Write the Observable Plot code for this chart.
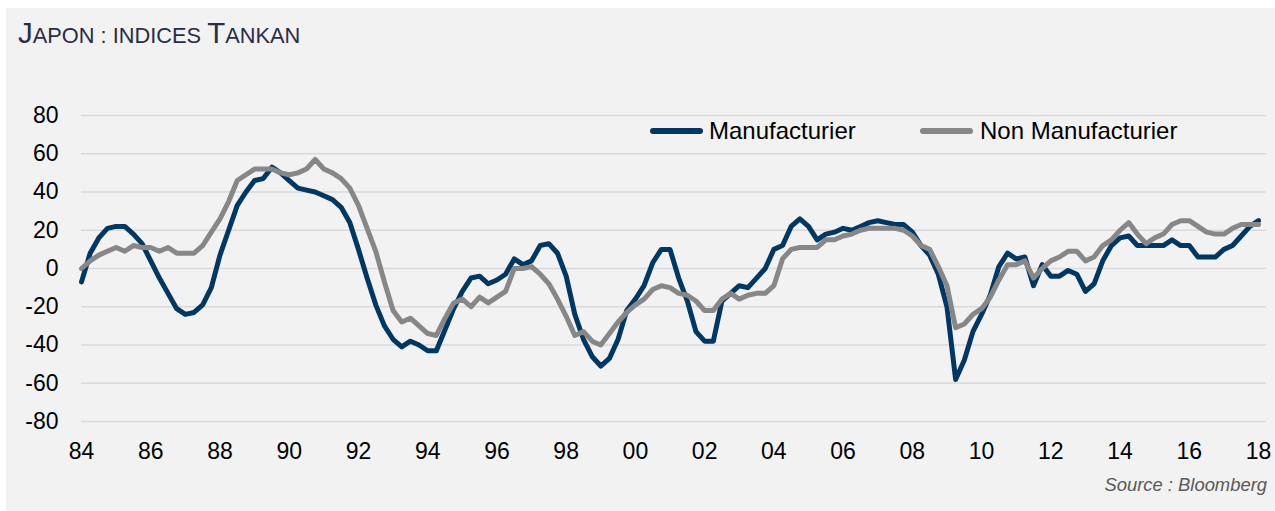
<!DOCTYPE html>
<html>
<head>
<meta charset="utf-8">
<script src="https://cdn.jsdelivr.net/npm/d3@7"></script>
<script src="https://cdn.jsdelivr.net/npm/@observablehq/plot@0.6"></script>
<style>
  html, body { margin: 0; padding: 0; background: #ffffff; }
  body { width: 1275px; height: 511px; overflow: hidden; position: relative; font-family: "Liberation Sans", Arial, sans-serif; }
  #panel { position: absolute; left: 6px; top: 8px; width: 1269px; height: 503px; background: #f2f2f2; }
  #chart { position: absolute; left: 0; top: 0; }
  #title { position: absolute; left: 12px; top: 10px; font-size: 29.5px; line-height: 1; color: #2a2d47; white-space: nowrap; }
  #title .sc { font-size: 21.8px; }
  .legend-line { position: absolute; height: 5.5px; border-radius: 3px; }
  .legend-text { position: absolute; font-size: 24px; line-height: 1; color: #000; white-space: nowrap; }
  #source { position: absolute; right: 8px; top: 467.5px; font-size: 18.4px; line-height: 1; font-style: italic; color: #595959; white-space: nowrap; }
</style>
</head>
<body>
<div id="panel">
  <div id="chart"></div>
  <div id="title">J<span class="sc">APON : INDICES </span>T<span class="sc">ANKAN</span></div>
  <div id="legend"></div>
  <div id="source">Source : Bloomberg</div>
</div>
<script>
// Quarterly Tankan DI, first quarter plotted at 1984
const startYear = 1984;
const seriesNames = ["Manufacturier", "Non Manufacturier"];
const seriesColors = ["#003865", "#878787"];

const manufacturier = [
  -7, 8, 16, 21, 22, 22, 18, 13, 4, -5, -13, -21, -24, -23, -19, -10,
  7, 20, 33, 40, 46, 47, 53, 50, 46, 42, 41, 40, 38, 36, 32, 24,
  10, -5, -19, -30, -37, -41, -38, -40, -43, -43, -32, -21, -12, -5, -4, -8,
  -6, -3, 5, 2, 4, 12, 13, 8, -4, -24, -37, -46, -51, -47, -37, -22,
  -16, -9, 3, 10, 10, -5, -17, -33, -38, -38, -17, -13, -9, -10, -5, 0,
  10, 12, 22, 26, 22, 15, 18, 19, 21, 20, 22, 24, 25, 24, 23, 23,
  19, 12, 7, -3, -20, -58, -48, -33, -24, -14, 1, 8, 5, 6, -9, 2,
  -4, -4, -1, -3, -12, -8, 4, 12, 16, 17, 12, 12, 12, 12, 15, 12,
  12, 6, 6, 6, 10, 12, 17, 22, 25
];

const nonManufacturier = [
  0, 4, 7, 9, 11, 9, 12, 11, 11, 9, 11, 8, 8, 8, 12, 19,
  26, 35, 46, 49, 52, 52, 52, 50, 49, 50, 52, 57, 52, 50, 47, 42,
  33, 21, 9, -7, -22, -28, -26, -30, -34, -35, -26, -18, -16, -20, -15, -18,
  -15, -12, 0, 0, 1, -3, -8, -16, -25, -35, -33, -38, -40, -34, -28, -23,
  -19, -16, -11, -9, -10, -13, -14, -17, -22, -22, -16, -13, -16, -14, -13, -13,
  -9, 5, 10, 11, 11, 11, 15, 15, 17, 18, 20, 21, 21, 21, 21, 20,
  17, 12, 10, 1, -9, -31, -29, -24, -21, -15, -6, 2, 2, 4, -5, 0,
  4, 6, 9, 9, 4, 6, 12, 15, 20, 24, 18, 13, 16, 18, 23, 25,
  25, 22, 19, 18, 18, 21, 23, 23, 23
];

const yTicks = [-80, -60, -40, -20, 0, 20, 40, 60, 80];
const xTicks = d3.range(1984, 2019, 2);
const xTickLabel = d => String(d % 100).padStart(2, "0");

const toRows = (values, name) => values.map((v, i) => ({ year: startYear + i / 4, value: v, series: name }));
const rowsM = toRows(manufacturier, seriesNames[0]);
const rowsN = toRows(nonManufacturier, seriesNames[1]);

const chart = Plot.plot({
  width: 1269,
  height: 503,
  marginLeft: 75,
  marginRight: 9,
  marginTop: 107,
  marginBottom: 90,
  style: { background: "transparent", fontFamily: "'Liberation Sans', Arial, sans-serif", fontSize: "23px", color: "#000" },
  x: { domain: [1984, 2018.23], ticks: xTicks, tickFormat: xTickLabel, tickSize: 0, tickPadding: 21, label: null },
  y: { domain: [-80, 80], ticks: yTicks, tickFormat: d => String(d), tickSize: 0, tickPadding: 23, label: null },
  marks: [
    Plot.ruleY(yTicks, { stroke: "#d9d9d9", strokeWidth: 1.5 }),
    Plot.line(rowsM, { x: "year", y: "value", stroke: seriesColors[0], strokeWidth: 5, strokeLinejoin: "round", strokeLinecap: "round" }),
    Plot.line(rowsN, { x: "year", y: "value", stroke: seriesColors[1], strokeWidth: 5, strokeLinejoin: "round", strokeLinecap: "round" })
  ]
});
document.getElementById("chart").appendChild(chart);

// Legend (HTML, above the plot area)
const legend = document.getElementById("legend");
const legendItems = [
  { line: 644, text: 703 },
  { line: 914, text: 974 }
];
seriesNames.forEach((name, k) => {
  const l = document.createElement("div");
  l.className = "legend-line";
  l.style.left = legendItems[k].line + "px";
  l.style.width = "53px";
  l.style.top = "120.25px";
  l.style.background = seriesColors[k];
  legend.appendChild(l);
  const t = document.createElement("div");
  t.className = "legend-text";
  t.style.left = legendItems[k].text + "px";
  t.style.top = "111px";
  t.textContent = name;
  legend.appendChild(t);
});
</script>
</body>
</html>
